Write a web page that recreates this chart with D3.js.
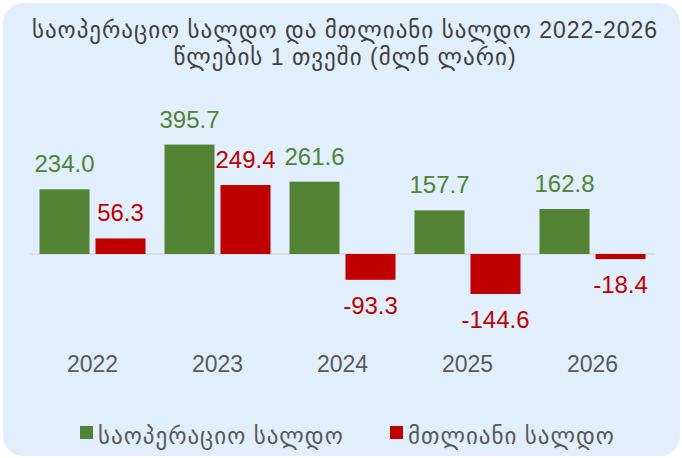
<!DOCTYPE html>
<html>
<head>
<meta charset="utf-8">
<script src="https://cdn.jsdelivr.net/npm/d3@7"></script>
<style>
  body { margin: 0; background: #fff; }
  svg text { font-family: "Liberation Sans", Arial, "DejaVu Sans", sans-serif; }
</style>
</head>
<body>
<svg id="chart" width="682" height="458"></svg>
<script>
const years = ["2022", "2023", "2024", "2025", "2026"]
const seriesNames = ["საოპერაციო სალდო", "მთლიანი სალდო"]
const operating = [234.0, 395.7, 261.6, 157.7, 162.8]
const overall = [56.3, 249.4, -93.3, -144.6, -18.4]
const titleLines = ["საოპერაციო სალდო და მთლიანი სალდო 2022-2026", "წლების 1 თვეში (მლნ ლარი)"]

const colors = ["#548235", "#C00000"]

const svg = d3.select("#chart")
const W = 682, H = 458

svg.append("rect")
  .attr("x", 3).attr("y", 3)
  .attr("width", W - 5).attr("height", H - 5)
  .attr("rx", 20)
  .attr("fill", "#E1EFFD")

// title
svg.selectAll("text.title")
  .data(titleLines)
  .enter()
  .append("text")
    .attr("class", "title")
    .attr("x", W / 2 + 4)
    .attr("y", (d, i) => 38 + i * 27)
    .attr("text-anchor", "middle")
    .attr("font-size", 23)
    .attr("letter-spacing", 1)
    .attr("fill", "#404040")
    .text(d => d)

let rows = years.map((y, i) => ({ year: y, values: [operating[i], overall[i]] }))

let x0 = d3.scaleBand()
  .domain(years)
  .range([30, 655])
  .paddingInner(0.152)
  .paddingOuter(0.076)

let x1 = d3.scaleBand()
  .domain([0, 1])
  .range([0, x0.bandwidth()])
  .paddingInner(0.107)

let y = d3.scaleLinear()
  .domain([-200, 450])
  .range([254 + 200 * 0.2765, 254 - 450 * 0.2765])

// zero line
svg.append("line")
  .attr("x1", x0.range()[0]).attr("x2", x0.range()[1])
  .attr("y1", y(0)).attr("y2", y(0))
  .attr("stroke", "#D9D9D9")
  .attr("stroke-width", 1.5)

let fmt = v => d3.format(".1f")(v).replace("\u2212", "-")

let groups = svg.selectAll("g.year")
  .data(rows)
  .enter()
  .append("g")
    .attr("class", "year")
    .attr("transform", d => "translate(" + x0(d.year) + ",0)")

groups.selectAll("rect")
  .data(d => d.values.map((v, k) => ({ v, k })))
  .enter()
  .append("rect")
    .attr("x", d => x1(d.k))
    .attr("width", x1.bandwidth())
    .attr("y", d => Math.min(y(d.v), y(0)))
    .attr("height", d => Math.abs(y(d.v) - y(0)))
    .attr("fill", d => colors[d.k])

groups.selectAll("text.val")
  .data(d => d.values.map((v, k) => ({ v, k })))
  .enter()
  .append("text")
    .attr("class", "val")
    .attr("x", d => x1(d.k) + x1.bandwidth() / 2)
    .attr("y", d => d.v >= 0 ? y(d.v) - 17 : y(d.v) + 34)
    .attr("text-anchor", "middle")
    .attr("font-size", 24)
    .attr("fill", d => colors[d.k])
    .text(d => fmt(d.v))

// category labels
let xAxis = d3.axisBottom(x0).tickSize(0).tickPadding(0)
let xG = svg.append("g")
  .attr("transform", "translate(0,352)")
  .call(xAxis)
xG.select(".domain").remove()
xG.attr("font-family", null)
xG.selectAll("text")
  .attr("font-size", 23)
  .attr("fill", "#595959")
  .attr("dy", "0.87em")

// legend
let legendX = [80, 390]
let legend = svg.selectAll("g.legend")
  .data(seriesNames)
  .enter()
  .append("g")
    .attr("class", "legend")
    .attr("transform", (d, i) => "translate(" + legendX[i] + ",426)")

legend.append("rect")
  .attr("width", 13).attr("height", 13)
  .attr("fill", (d, i) => colors[i])

legend.append("text")
  .attr("x", 18)
  .attr("y", 18)
  .attr("font-size", 23)
  .attr("letter-spacing", 1)
  .attr("fill", "#595959")
  .text(d => d)
</script>
</body>
</html>
